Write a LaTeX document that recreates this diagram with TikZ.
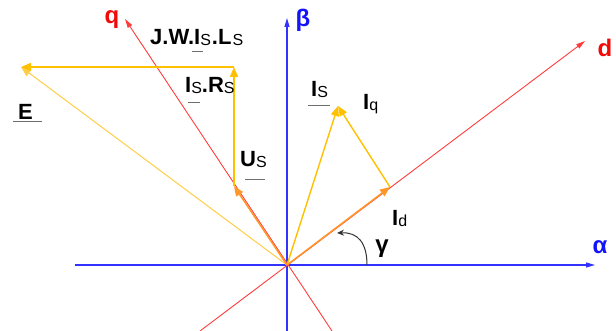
\documentclass[tikz,border=0pt]{standalone}
\usepackage{fontspec}
\setmainfont{Liberation Sans}
\usetikzlibrary{arrows.meta}
\definecolor{axblue}{RGB}{51,51,255}
\definecolor{axred}{RGB}{255,60,60}
\definecolor{lblred}{RGB}{240,10,10}
\definecolor{lblblue}{RGB}{20,20,250}
\definecolor{vyel}{RGB}{255,192,0}
\definecolor{vlight}{RGB}{255,205,70}
\definecolor{vorange}{RGB}{255,150,40}
\definecolor{ulgray}{RGB}{110,110,110}
% underline: x offset, width, depth below baseline
\newcommand\ulr[3]{\rlap{\kern#1\raisebox{-#3}{\color{ulgray}\rule{#2}{1.2pt}}}}
\newcommand\sbx[1]{\raisebox{-1pt}{\fontsize{16}{16}\selectfont\mdseries #1}}
\begin{document}
\begin{tikzpicture}[x=1pt,y=-1pt,
  axisB/.style={axblue,line width=1.1pt,-{Triangle[length=9pt,width=5pt]}},
  axisR/.style={axred,line width=0.9pt,-{Triangle[length=9pt,width=5pt]}},
  vecY/.style={vyel,line width=1.4pt,-{Triangle[length=10pt,width=8pt]}},
  vecL/.style={vlight,line width=1pt,-{Triangle[length=10pt,width=8pt]}},
  vecO/.style={vorange,line width=1.5pt,-{Triangle[length=10pt,width=8pt]}},
  lbl/.style={inner sep=0pt,anchor=base west,font=\fontsize{22}{22}\selectfont\bfseries},
  axlbl/.style={inner sep=0pt,font=\fontsize{24}{24}\selectfont\bfseries}]
\useasboundingbox (0,0) rectangle (616,331);
% coordinates
\coordinate (O) at (287,265);
\coordinate (Aw) at (75,265);
\coordinate (Ae) at (595,265);
\coordinate (Bs) at (287,331);
\coordinate (Bn) at (287,18);
\coordinate (Dp) at (585,41);
\coordinate (Dn) at (200,331);
\coordinate (Qp) at (125,19);
\coordinate (Qn) at (332,331);
\coordinate (Id) at (390,187);
\coordinate (Is) at (338,106);
\coordinate (Us) at (234,186);
\coordinate (R) at (234,67);
\coordinate (E) at (21,67);
\coordinate (Arc0) at (367,265);
\coordinate (Arc1) at (337,233);
% axes
\draw[axisB] (Aw) -- (Ae);
\draw[axisB] (Bs) -- (Bn);
\draw[axisR] (Dn) -- (Dp);
\draw[axisR] (Qn) -- (Qp);
% vectors
\draw[vecL] (O) -- (E);
\draw[vecY] (O) -- (Is);
\draw[vecY] (Id) -- (Is);
\draw[vecY] (Us) -- (R);
\draw[vecY] (R) -- (E);
\draw[vecO] (O) -- (Id);
\draw[vecO] (O) -- (Us);
% angle arc
\draw[black!80,line width=1pt,-{Stealth[length=7pt,width=6pt]}] (Arc0) .. controls (367,243) and (358,232) .. (Arc1);
% axis labels
\node[axlbl,text=lblred] (lq) at (112,20) {q};
\node[axlbl,text=lblblue] (lb) at (303,20) {β};
\node[axlbl,text=lblred] (ld) at (605,48) {d};
\node[axlbl,text=lblblue] (la) at (600,247) {α};
\node[axlbl,text=black] (lg) at (382,249) {γ};
% vector labels
\node[lbl] (ljw) at (150,45) {\ulr{42pt}{11pt}{7pt}J.W.I\sbx{S}\kern1pt.L\kern1pt\sbx{S}};
\node[lbl] (lrs) at (185,93) {\ulr{3pt}{12pt}{10pt}I\sbx{S}.R\sbx{S}};
\node[lbl] (le) at (18,120) {\ulr{-5pt}{29pt}{2.5pt}E};
\node[lbl] (lus) at (240,167) {\ulr{5pt}{20pt}{13pt}U\sbx{S}};
\node[lbl] (lis) at (311,97) {\ulr{-3pt}{22pt}{9pt}I\sbx{S}};
\node[lbl] (liq) at (363,110) {I\sbx{q}};
\node[lbl] (lid) at (392,226) {I\sbx{d}};
\end{tikzpicture}
\end{document}
